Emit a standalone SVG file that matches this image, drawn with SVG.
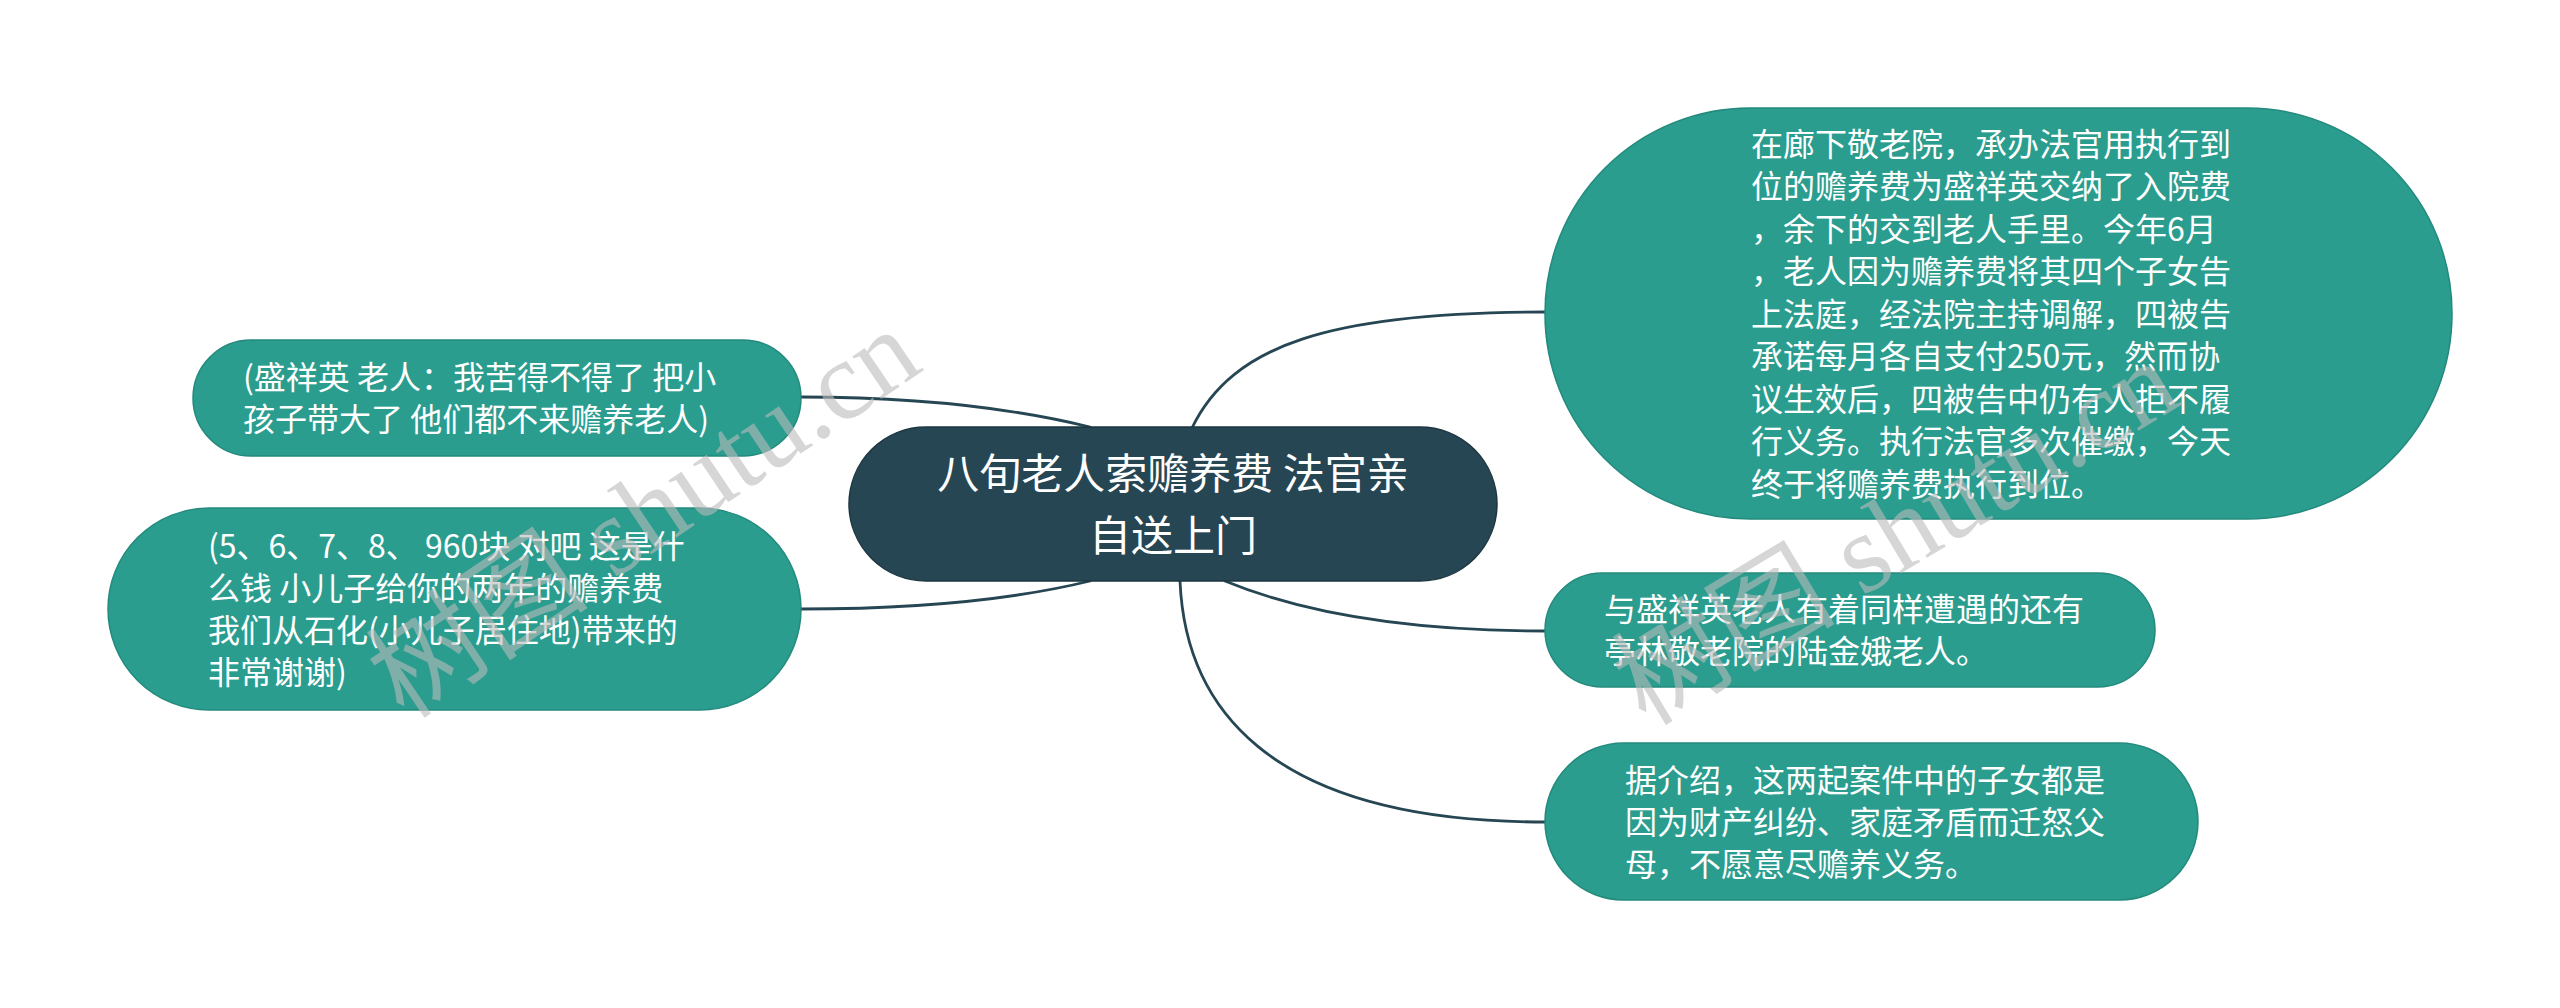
<svg xmlns="http://www.w3.org/2000/svg" width="2560" height="1008" viewBox="0 0 2560 1008">
<style>
.bg{fill:#ffffff}
.root{fill:#264653;stroke:#1d3640;stroke-width:1.5}
.child{fill:#2a9d8f;stroke:#238a7d;stroke-width:1.5}
.t{font-family:"Noto Sans CJK SC","Noto Sans",sans-serif;fill:#ffffff}
.rt{font-size:42px}
.ct{font-size:32px}
.edge{fill:none;stroke:#264653;stroke-width:2.8;stroke-linecap:round}
.wm{font-family:"Liberation Serif","Noto Sans CJK SC",serif;font-size:112px;fill:#bbbbbb;fill-opacity:0.6}
</style>
<rect class="bg" x="0" y="0" width="2560" height="1008"/>
<g id="connectors">
<path class="edge" d="M1192,428 C1232,345 1330,312 1545,312"/>
<path class="edge" d="M1225,581 C1300,612 1400,631 1545,631"/>
<path class="edge" d="M1180,581 C1185,700 1260,822 1545,822"/>
<path class="edge" d="M1090,427 C1000,405 900,397 801,397"/>
<path class="edge" d="M1090,581 C1000,603 900,609 801,609"/>
</g>
<g id="node-root">
<rect class="root" x="849" y="427" width="648" height="154" rx="77" ry="77"/>
<text class="t rt" text-anchor="middle"><tspan x="1173" y="489">八旬老人索赡养费 法官亲</tspan><tspan x="1173" y="551">自送上门</tspan></text>
</g>
<g id="node-left-1">
<rect class="child" x="193" y="340" width="608" height="116" rx="58" ry="58"/>
<text class="t ct"><tspan x="243" y="389">(盛祥英 老人：我苦得不得了 把小</tspan><tspan x="243" y="431">孩子带大了 他们都不来赡养老人)</tspan></text>
</g>
<g id="node-left-2">
<rect class="child" x="108" y="508" width="693" height="202" rx="101" ry="101"/>
<text class="t ct"><tspan x="208" y="558">(5、6、7、8、 960块 对吧 这是什</tspan><tspan x="208" y="600">么钱 小儿子给你的两年的赡养费</tspan><tspan x="208" y="642">我们从石化(小儿子居住地)带来的</tspan><tspan x="208" y="684">非常谢谢)</tspan></text>
</g>
<g id="node-right-1">
<rect class="child" x="1545" y="108" width="907" height="411" rx="205" ry="205"/>
<text class="t ct"><tspan x="1751" y="155.5">在廊下敬老院，承办法官用执行到</tspan><tspan x="1751" y="198">位的赡养费为盛祥英交纳了入院费</tspan><tspan x="1751" y="240.5">，余下的交到老人手里。今年6月</tspan><tspan x="1751" y="283">，老人因为赡养费将其四个子女告</tspan><tspan x="1751" y="325.5">上法庭，经法院主持调解，四被告</tspan><tspan x="1751" y="368">承诺每月各自支付250元，然而协</tspan><tspan x="1751" y="410.5">议生效后，四被告中仍有人拒不履</tspan><tspan x="1751" y="453">行义务。执行法官多次催缴，今天</tspan><tspan x="1751" y="495.5">终于将赡养费执行到位。</tspan></text>
</g>
<g id="node-right-2">
<rect class="child" x="1545" y="573" width="610" height="114" rx="57" ry="57"/>
<text class="t ct"><tspan x="1604" y="621">与盛祥英老人有着同样遭遇的还有</tspan><tspan x="1604" y="663">亭林敬老院的陆金娥老人。</tspan></text>
</g>
<g id="node-right-3">
<rect class="child" x="1545" y="743" width="653" height="157" rx="78.5" ry="78.5"/>
<text class="t ct"><tspan x="1625" y="791.5">据介绍，这两起案件中的子女都是</tspan><tspan x="1625" y="833.5">因为财产纠纷、家庭矛盾而迁怒父</tspan><tspan x="1625" y="875.5">母，不愿意尽赡养义务。</tspan></text>
</g>
<g id="watermark">
<text class="wm" text-anchor="middle" transform="translate(665,545) rotate(-34)">树图 shutu.cn</text>
<text class="wm" text-anchor="middle" transform="translate(1915,565) rotate(-31)">树图 shutu.cn</text>
</g>
</svg>
